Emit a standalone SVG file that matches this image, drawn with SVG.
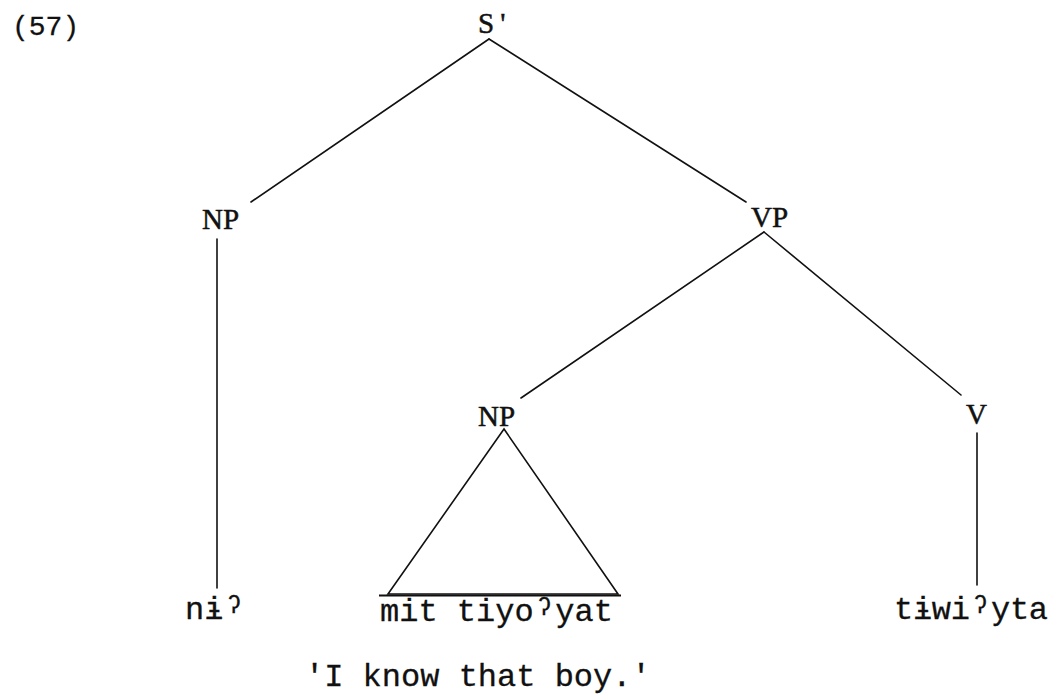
<svg xmlns="http://www.w3.org/2000/svg" width="1052" height="696" viewBox="0 0 1052 696">
<style>
.lbl{font-family:"Liberation Serif","DejaVu Serif",serif;font-size:29px;fill:#111;stroke:#111;stroke-width:0.5}
.mono{font-family:"Liberation Mono","DejaVu Sans Mono",monospace;font-size:32px;fill:#111;stroke:#111;stroke-width:0.3}
.num{font-family:"Liberation Mono","DejaVu Sans Mono",monospace;font-size:28px;fill:#111;stroke:#111;stroke-width:0.3}
.gs{font-size:36px}
.edge{stroke:#111;stroke-width:1.6;fill:none;stroke-linecap:round}
</style>
<rect width="1052" height="696" fill="#fff"/>
<text class="num" x="12" y="35">(57)</text>
<g id="connectors">
<line class="edge" x1="489" y1="39" x2="251" y2="202"/>
<line class="edge" x1="489" y1="39" x2="746" y2="202"/>
<line class="edge" x1="217" y1="239" x2="217" y2="588"/>
<line class="edge" x1="764" y1="232" x2="521" y2="398"/>
<line class="edge" x1="764" y1="232" x2="961" y2="395"/>
<line class="edge" x1="977" y1="433" x2="977" y2="585"/>
</g>
<g id="node-S">
<text class="lbl" x="478" y="33">S<tspan dx="6">'</tspan></text>
</g>
<g id="node-NP1">
<text class="lbl" x="202" y="229">NP</text>
</g>
<g id="node-VP">
<text class="lbl" x="751" y="227">VP</text>
</g>
<g id="node-NP2">
<text class="lbl" x="478" y="426">NP</text>
<polygon points="504,429 388,594 618,594" class="edge"/>
<line x1="379" y1="595.5" x2="621" y2="595.5" stroke="#111" stroke-width="2.2"/>
</g>
<g id="node-V">
<text class="lbl" x="966" y="424">V</text>
</g>
<g id="leaf-ni">
<text class="mono" x="185" y="619">nɨ<tspan class="gs" dy="3">ˀ</tspan></text>
</g>
<g id="leaf-mit">
<text class="mono" x="380" y="621" textLength="233" lengthAdjust="spacing">mit tiyo<tspan class="gs" dy="3">ˀ</tspan><tspan dy="-3">yat</tspan></text>
</g>
<g id="leaf-tiwi">
<text class="mono" x="894" y="619" textLength="154" lengthAdjust="spacing">tɨwi<tspan class="gs" dy="3">ˀ</tspan><tspan dy="-3">yta</tspan></text>
</g>
<text class="mono" x="305" y="686">'I know that boy.'</text>
</svg>
